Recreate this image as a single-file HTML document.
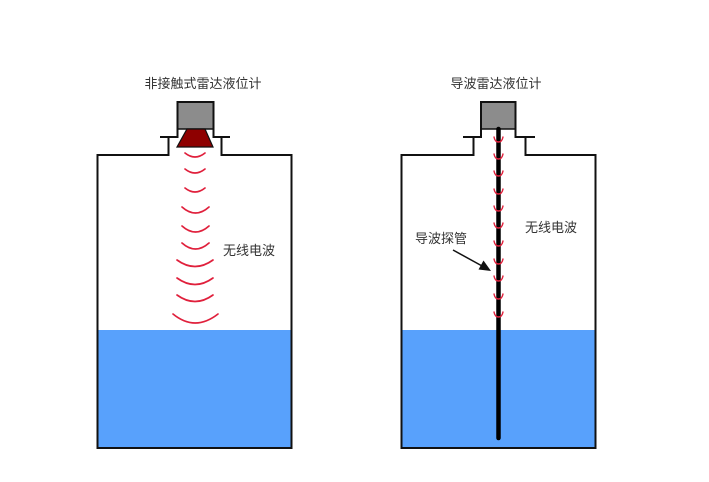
<!DOCTYPE html>
<html><head><meta charset="utf-8"><style>
html,body{margin:0;padding:0;background:#fff;}
svg{display:block;}
text{font-family:"Liberation Sans","Noto Sans CJK SC",sans-serif;font-size:13px;fill:#333;}
</style></head><body>
<svg width="709" height="482" viewBox="0 0 709 482" xmlns="http://www.w3.org/2000/svg">
<rect width="709" height="482" fill="#fff"/>
<!-- LEFT TANK -->
<rect x="97.5" y="330" width="194" height="118" fill="#58a1fc"/>
<g fill="none" stroke="#111" stroke-width="2" stroke-linejoin="miter">
<path d="M168.5 137 L168.5 155 L97.5 155 L97.5 448 L291.5 448 L291.5 155 L221.5 155 L221.5 137"/>
<path d="M160 137 L177.5 137 L177.5 102 L213.5 102 L213.5 137 L230 137"/>
</g>
<rect x="178.5" y="103" width="34" height="25.5" fill="#8c8c8c"/>
<line x1="177.5" y1="129" x2="213.5" y2="129" stroke="#111" stroke-width="1.5"/>
<polygon points="187,129 205,129 213,147 177,147" fill="#8e0000" stroke="#111" stroke-width="1.2"/>
<g fill="none" stroke="#e0203c" stroke-width="1.7" stroke-linecap="round">
<path d="M185 153 Q195 161 205 153"/>
<path d="M185 169 Q195 177 205 169"/>
<path d="M185 188 Q195 196 205 188"/>
<path d="M182 207 Q195.5 219 209 207"/>
<path d="M182 226 Q195.5 238 209 226"/>
<path d="M182 243 Q195.5 255 209 243"/>
<path d="M177 260 Q195 273 213 260"/>
<path d="M177 278 Q195 291 213 278"/>
<path d="M177 295 Q195 308 213 295"/>
<path d="M173 314 Q195 332 218 314"/>
</g>
<text x="203" y="88" text-anchor="middle">非接触式雷达液位计</text>
<text x="249" y="255" text-anchor="middle">无线电波</text>

<!-- RIGHT TANK -->
<rect x="401.5" y="330" width="194" height="118" fill="#58a1fc"/>
<g fill="none" stroke="#111" stroke-width="2" stroke-linejoin="miter">
<path d="M473.5 137 L473.5 155 L401.5 155 L401.5 448 L595.5 448 L595.5 155 L525.5 155 L525.5 137"/>
<path d="M463 137 L481 137 L481 102 L515.5 102 L515.5 137 L535 137"/>
</g>
<rect x="482" y="103" width="32.5" height="25.5" fill="#8c8c8c"/>
<line x1="481" y1="129" x2="515.5" y2="129" stroke="#111" stroke-width="1.5"/>
<line x1="498.5" y1="129" x2="498.5" y2="438" stroke="#000" stroke-width="4.5" stroke-linecap="round"/>
<g fill="none" stroke="#e0203c" stroke-width="1.4" stroke-linecap="round">
<path d="M494 137 Q495 142 498.5 142 Q502 142 503 137"/>
<path d="M494 154 Q495 159 498.5 159 Q502 159 503 154"/>
<path d="M494 171 Q495 176 498.5 176 Q502 176 503 171"/>
<path d="M494 189 Q495 194 498.5 194 Q502 194 503 189"/>
<path d="M494 206 Q495 211 498.5 211 Q502 211 503 206"/>
<path d="M494 223 Q495 228 498.5 228 Q502 228 503 223"/>
<path d="M494 241 Q495 246 498.5 246 Q502 246 503 241"/>
<path d="M494 259 Q495 264 498.5 264 Q502 264 503 259"/>
<path d="M494 276 Q495 281 498.5 281 Q502 281 503 276"/>
<path d="M494 294 Q495 299 498.5 299 Q502 299 503 294"/>
<path d="M494 312 Q495 317 498.5 317 Q502 317 503 312"/>
</g>
<text x="496" y="88" text-anchor="middle">导波雷达液位计</text>
<text x="551" y="232" text-anchor="middle">无线电波</text>
<text x="441" y="243" text-anchor="middle">导波探管</text>
<line x1="453" y1="250" x2="483" y2="266.5" stroke="#111" stroke-width="1.5"/>
<polygon points="491,271 478.5,269.5 483.5,260.5" fill="#111"/>
</svg>
</body></html>
